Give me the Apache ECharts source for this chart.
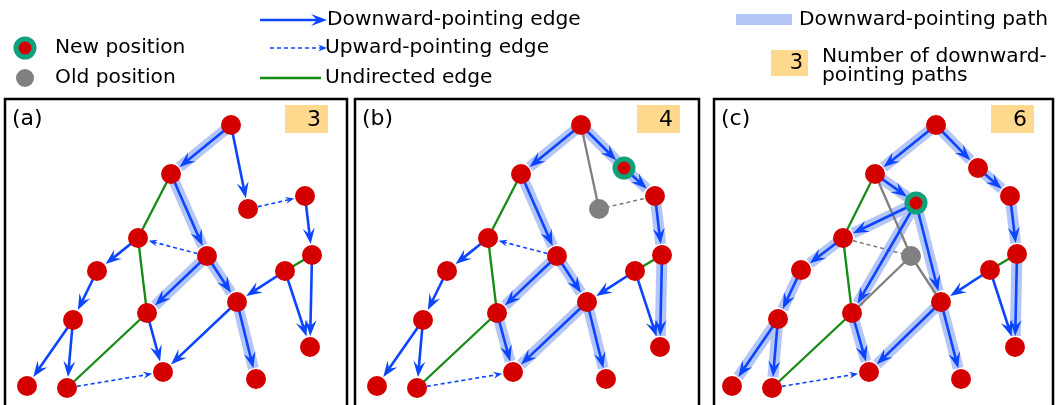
<!DOCTYPE html>
<html><head><meta charset="utf-8">
<script src="https://cdn.jsdelivr.net/npm/echarts@6.0.0/dist/echarts.min.js"></script>
<style>html,body{margin:0;padding:0;background:#fff}#c{width:1058px;height:405px}</style>
</head><body><div id="c"></div>
<script>
// ---------------- data ----------------
const panelLabels = ['(a)', '(b)', '(c)'];
const pathCounts = [3, 4, 6];

// node positions inside each panel (x to the right, y downward), node ids 0..16
const nodesA = [[226,26],[166,75],[243,110],[300,97],[133,139],[202,157],[307,156],[280,172],[92,172],[232,203],[142,214],[68,221],[305,248],[158,273],[251,280],[22,287],[62,289]];
const nodesB = [[226,26],[166,75],[269,69],[300,97],[133,139],[202,157],[307,156],[280,172],[92,172],[232,203],[142,214],[68,221],[305,248],[158,273],[251,280],[22,287],[62,289]];
const nodesC = [[222,26],[161,75],[264,69],[296,97],[129,139],[202,104],[303,155],[276,171],[87,171],[227,203],[138,214],[64,220],[301,248],[155,273],[247,280],[18,287],[58,289]];

const movedB = 2, oldPosB = [244,110];
const movedC = 5, oldPosC = [197,157];

// edges as [from, to]
const downA = [[0,1],[0,2],[3,6],[1,5],[4,8],[5,10],[5,9],[8,11],[11,15],[11,16],[10,13],[9,13],[9,14],[7,9],[7,12],[6,12]];
const upA = [[2,3],[5,4],[16,13]];
const undirA = [[1,4],[4,10],[10,16],[7,6]];
const pathA = [[0,1],[1,5],[5,10],[5,9],[9,14]];

const downB = [[0,1],[0,2],[2,3],[3,6],[1,5],[4,8],[5,10],[5,9],[8,11],[11,15],[11,16],[10,13],[9,13],[9,14],[7,9],[7,12],[6,12]];
const upB = [[5,4],[16,13]];
const undirB = [[1,4],[4,10],[10,16],[7,6]];
const pathB = [[0,1],[1,5],[5,10],[5,9],[9,14],[10,13],[9,13],[0,2],[2,3],[3,6],[6,12]];
const graySolidB = [0], grayDashB = [3];

const downC = [[0,1],[0,2],[2,3],[3,6],[1,5],[5,4],[4,8],[5,10],[5,9],[8,11],[11,15],[11,16],[10,13],[9,13],[9,14],[7,9],[7,12],[6,12]];
const upC = [[16,13]];
const undirC = [[1,4],[4,10],[10,16],[7,6]];
const pathC = [[0,1],[0,2],[2,3],[3,6],[6,12],[1,5],[5,4],[4,8],[8,11],[11,15],[11,16],[5,10],[10,13],[5,9],[9,13],[9,14]];
const graySolidC = [1,10,9], grayDashC = [4];

// ---------------- style / layout ----------------
const FONT = 'DejaVu Sans';
const BLUE = '#0b45ff', RED = '#d40000', GREEN = '#158a15', GRAY = '#808080', TEAL = '#0fa07c', HL = '#b4c5f7', ORANGE = '#ffd98e';
const panelLeft = [5, 355, 714], panelWidth = [342, 344, 339], panelTop = 99, panelHeight = 306;

const panels = [
  {nodes: nodesA, down: downA, up: upA, undir: undirA, path: pathA, moved: -1, old: null, gs: [], gd: []},
  {nodes: nodesB, down: downB, up: upB, undir: undirB, path: pathB, moved: movedB, old: oldPosB, gs: graySolidB, gd: grayDashB},
  {nodes: nodesC, down: downC, up: upC, undir: undirC, path: pathC, moved: movedC, old: oldPosC, gs: graySolidC, gd: grayDashC}
];

function geom(p1, p2, s0, s1, L, W) {
  const dx = p2[0]-p1[0], dy = p2[1]-p1[1], len = Math.hypot(dx, dy) || 1;
  const ux = dx/len, uy = dy/len, nx = -uy, ny = ux;
  const s = [p1[0]+ux*s0, p1[1]+uy*s0];
  const tip = [p2[0]-ux*s1, p2[1]-uy*s1];
  const back = [tip[0]-ux*L, tip[1]-uy*L];
  const notch = [tip[0]-ux*L*0.62, tip[1]-uy*L*0.62];
  const head = [tip, [back[0]+nx*W/2, back[1]+ny*W/2], notch, [back[0]-nx*W/2, back[1]-ny*W/2]];
  return {s, tip, notch, head};
}

function shapesFor(kind, p1, p2) {
  if (kind === 'down') {
    const g = geom(p1, p2, 0, 11, 16, 12);
    return [
      {type: 'line', shape: {x1: g.s[0], y1: g.s[1], x2: g.notch[0], y2: g.notch[1]}, style: {stroke: BLUE, lineWidth: 2.6}},
      {type: 'polygon', shape: {points: g.head}, style: {fill: BLUE}}
    ];
  }
  if (kind === 'up') {
    const g = geom(p1, p2, 10, 11, 9, 7);
    return [
      {type: 'line', shape: {x1: g.s[0], y1: g.s[1], x2: g.notch[0], y2: g.notch[1]}, style: {stroke: BLUE, lineWidth: 1.6, lineDash: [4, 3]}},
      {type: 'polygon', shape: {points: g.head}, style: {fill: BLUE}}
    ];
  }
  if (kind === 'path') {
    const g = geom(p1, p2, 0, 11, 16, 12);
    return [{type: 'line', shape: {x1: p1[0], y1: p1[1], x2: g.tip[0], y2: g.tip[1]}, style: {stroke: HL, lineWidth: 11, lineCap: 'butt'}}];
  }
  if (kind === 'undir') return [{type: 'line', shape: {x1: p1[0], y1: p1[1], x2: p2[0], y2: p2[1]}, style: {stroke: GREEN, lineWidth: 2.3}}];
  if (kind === 'gray') return [{type: 'line', shape: {x1: p1[0], y1: p1[1], x2: p2[0], y2: p2[1]}, style: {stroke: GRAY, lineWidth: 2.3}}];
  if (kind === 'grayDash') return [{type: 'line', shape: {x1: p1[0], y1: p1[1], x2: p2[0], y2: p2[1]}, style: {stroke: GRAY, lineWidth: 1.6, lineDash: [4, 3]}}];
  return [];
}

function edgeSeries(i, data, kind, z) {
  return {
    type: 'custom', coordinateSystem: 'cartesian2d', xAxisIndex: i, yAxisIndex: i,
    silent: true, z: z, clip: false,
    dimensions: ['x1', 'y1', 'x2', 'y2'],
    encode: {x: [0, 2], y: [1, 3]},
    data: data,
    renderItem: function (params, api) {
      const p1 = api.coord([api.value(0), api.value(1)]);
      const p2 = api.coord([api.value(2), api.value(3)]);
      return {type: 'group', children: shapesFor(kind, p1, p2)};
    }
  };
}

const grids = [], xAxes = [], yAxes = [], series = [], graphics = [];

panels.forEach(function (p, i) {
  grids.push({left: panelLeft[i], top: panelTop, width: panelWidth[i], height: panelHeight, show: false});
  xAxes.push({type: 'value', gridIndex: i, min: 0, max: panelWidth[i], show: false});
  yAxes.push({type: 'value', gridIndex: i, min: 0, max: panelHeight, inverse: true, show: false});
  // panel frame (continues below the visible area)
  graphics.push({type: 'rect', shape: {x: panelLeft[i], y: panelTop, width: panelWidth[i], height: 360}, style: {fill: 'none', stroke: '#000', lineWidth: 2.5}, z: 0});
  const ed = function (list) { return list.map(function (e) { return p.nodes[e[0]].concat(p.nodes[e[1]]); }); };
  series.push(edgeSeries(i, ed(p.path), 'path', 1));
  if (p.old) {
    series.push(edgeSeries(i, p.gs.map(function (n) { return p.old.concat(p.nodes[n]); }), 'gray', 2));
    series.push(edgeSeries(i, p.gd.map(function (n) { return p.old.concat(p.nodes[n]); }), 'grayDash', 2));
  }
  series.push(edgeSeries(i, ed(p.undir), 'undir', 3));
  series.push(edgeSeries(i, ed(p.up), 'up', 3));
  series.push(edgeSeries(i, ed(p.down), 'down', 4));
  if (p.old) {
    series.push({type: 'scatter', xAxisIndex: i, yAxisIndex: i, z: 5, silent: true, symbol: 'circle', symbolSize: 20,
      itemStyle: {color: GRAY, opacity: 1}, data: [p.old]});
  }
  series.push({type: 'scatter', xAxisIndex: i, yAxisIndex: i, z: 6, silent: true, symbol: 'circle', symbolSize: 20,
    itemStyle: {color: RED, opacity: 1},
    data: p.nodes.map(function (n, k) {
      if (k === p.moved) return {value: n, symbolSize: 18, itemStyle: {color: RED, borderColor: TEAL, borderWidth: 5}};
      return n;
    })});
  // panel label and count box
  graphics.push({type: 'text', x: panelLeft[i] + 7, y: 119, style: {text: panelLabels[i], font: '22px "' + FONT + '"', fill: '#000', textAlign: 'left', textVerticalAlign: 'middle'}});
  const bx = panelLeft[i] + panelWidth[i] - 19 - 43;
  graphics.push({type: 'rect', shape: {x: bx, y: 105, width: 43, height: 28}, style: {fill: ORANGE}});
  graphics.push({type: 'text', x: bx + 36, y: 120, style: {text: String(pathCounts[i]), font: '22px "' + FONT + '"', fill: '#000', textAlign: 'right', textVerticalAlign: 'middle'}});
});

// ---------------- legend ----------------
function legendText(t, x, y) {
  return {type: 'text', x: x, y: y, style: {text: t, font: '20.2px "' + FONT + '"', fill: '#000', textAlign: 'left', textVerticalAlign: 'middle'}};
}
graphics.push({type: 'circle', shape: {cx: 25, cy: 48, r: 9}, style: {fill: RED, stroke: TEAL, lineWidth: 5}});
graphics.push({type: 'circle', shape: {cx: 25, cy: 78, r: 9}, style: {fill: GRAY}});
graphics.push(legendText('New position', 55, 48));
graphics.push(legendText('Old position', 55, 78));
[['down', 20, 'Downward-pointing edge', 327], ['up', 48, 'Upward-pointing edge', 325], ['undir', 78, 'Undirected edge', 325]].forEach(function (r) {
  const endX = r[0] === 'undir' ? 321 : 338;
  shapesFor(r[0], [260, r[1]], [endX, r[1]]).forEach(function (s) { graphics.push(s); });
  graphics.push(legendText(r[2], r[3], r[1]));
});
graphics.push({type: 'rect', shape: {x: 736, y: 14, width: 56, height: 11}, style: {fill: HL}});
graphics.push(legendText('Downward-pointing path', 799, 20));
graphics.push({type: 'rect', shape: {x: 771, y: 50, width: 37, height: 26}, style: {fill: ORANGE}});
graphics.push({type: 'text', x: 803, y: 64, style: {text: '3', font: '21px "' + FONT + '"', fill: '#000', textAlign: 'right', textVerticalAlign: 'middle'}});
graphics.push(legendText('Number of downward-', 822, 57));
graphics.push(legendText('pointing paths', 822, 76));

const chart = echarts.init(document.getElementById('c'), null, {renderer: 'canvas'});
chart.setOption({
  animation: false,
  backgroundColor: '#fff',
  grid: grids, xAxis: xAxes, yAxis: yAxes,
  series: series,
  graphic: graphics
});
</script></body></html>
